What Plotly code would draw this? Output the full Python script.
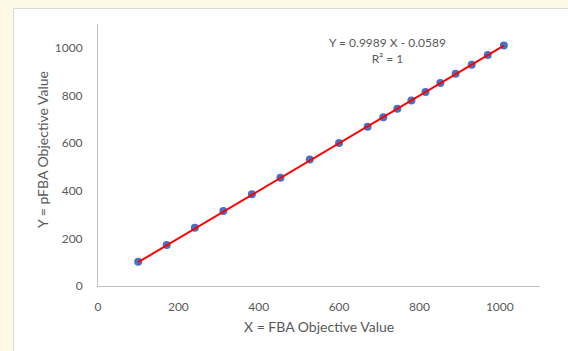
import plotly.graph_objects as go
import numpy as np

# Data
fba_x = [100, 171, 241, 312, 383, 454, 527, 600, 671, 710, 745, 780, 815, 852, 890, 930, 970, 1010]
pfba_y = [102, 172, 245, 315, 385, 455, 531, 600, 669, 709, 744, 779, 815, 852, 891, 929, 970, 1010]
slope = 0.9989
intercept = -0.0589
x_ticks = [0, 200, 400, 600, 800, 1000]
y_ticks = [0, 200, 400, 600, 800, 1000]

W, H = 568, 351
L, R, T, B = 98, 28, 24, 65
pw, ph = W - L - R, H - T - B

def px_x(p):
    return (p - L) / pw

def px_y(p):
    return (H - B - p) / ph

FONT = "Lato, Carlito, Calibri, sans-serif"
GREY = "#595959"

trend_x = np.array([min(fba_x), max(fba_x)])
trend_y = slope * trend_x + intercept

fig = go.Figure()
fig.add_trace(go.Scatter(x=fba_x, y=pfba_y, mode="markers",
                         marker=dict(color="#4472C4", size=8, line=dict(width=0))))
fig.add_trace(go.Scatter(x=trend_x, y=trend_y, mode="lines",
                         line=dict(color="#FF0000", width=2), hoverinfo="skip"))

fig.update_layout(
    width=W, height=H,
    margin=dict(l=L, r=R, t=T, b=B, autoexpand=False),
    paper_bgcolor="#FEF9E7",
    plot_bgcolor="white",
    showlegend=False,
    font=dict(family=FONT, color=GREY, size=12),
    shapes=[dict(type="rect", xref="paper", yref="paper",
                 x0=px_x(13.5), x1=px_x(575), y0=px_y(8.5), y1=px_y(360),
                 fillcolor="white", line=dict(color="#D9D9D9", width=1), layer="below")],
    annotations=[
        dict(text="Y = 0.9989 X - 0.0589<br>R² = 1", x=px_x(387), y=px_y(50),
             xref="paper", yref="paper", showarrow=False, align="center",
             xanchor="center", yanchor="middle",
             font=dict(size=12, color=GREY, family=FONT)),
        dict(text="X = FBA Objective Value", x=px_x(319), y=px_y(326),
             xref="paper", yref="paper", showarrow=False,
             xanchor="center", yanchor="middle",
             font=dict(size=14, color=GREY, family=FONT)),
        dict(text="Y = pFBA Objective Value", x=px_x(42), y=px_y(150),
             xref="paper", yref="paper", showarrow=False, textangle=-90,
             xanchor="center", yanchor="middle",
             font=dict(size=14, color=GREY, family=FONT)),
    ],
)
fig.update_xaxes(range=[0, 1100], tickvals=x_ticks, showgrid=False, zeroline=False,
                 showline=True, linecolor="#BFBFBF", linewidth=1, ticks="",
                 ticklabelstandoff=10, tickfont=dict(size=12, color=GREY))
fig.update_yaxes(range=[0, 1100], tickvals=y_ticks, showgrid=False, zeroline=False,
                 showline=True, linecolor="#BFBFBF", linewidth=1, ticks="",
                 ticklabelstandoff=12, tickfont=dict(size=12, color=GREY))

fig.write_html("out.html")
